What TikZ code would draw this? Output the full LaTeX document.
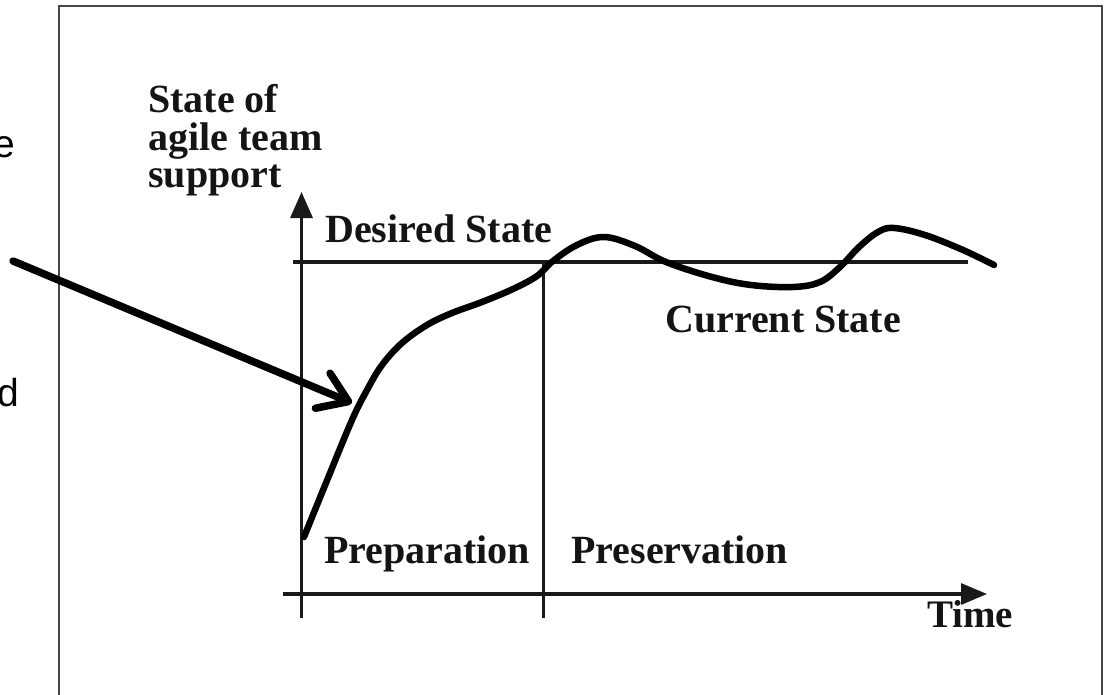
\documentclass[tikz,border=0pt]{standalone}
\usepackage{fontspec}
\setmainfont{Liberation Serif}
\newfontfamily\lsans{Liberation Sans}
\usetikzlibrary{arrows.meta}
\begin{document}
\begin{tikzpicture}[x=1pt,y=-1pt,
  lbl/.style={inner sep=0pt, anchor=base west, text=black!92},
  big/.style={font=\bfseries\fontsize{40}{40}\selectfont},
  mid/.style={font=\bfseries\fontsize{39}{39}\selectfont},
  frag/.style={inner sep=0pt, anchor=base east, font=\lsans\fontsize{39}{39}\selectfont},
  axis/.style={line width=3.2pt, draw=black!90},
  thin axis/.style={line width=2.8pt, draw=black!90},
  curvepath/.style={line width=6.5pt, line cap=round, line join=round},
  frame/.style={line width=1.8pt, draw=black!72},
  pointer/.style={line width=7.5pt, line cap=round, line join=round,
     -{Straight Barb[length=28pt,width=38pt,round]}}]
\useasboundingbox (0,0) rectangle (1105,695);
% outer frame
\draw[frame] (59,730) -- (59,6) -- (1102,6) -- (1102,730);
% cut-off fragments of text on the left
\node[frag] (fe) at (15,158) {e};
\node[frag] (fd) at (19,406) {d};
% axes
\coordinate (yb) at (301.5,618);
\coordinate (yt) at (301.5,192);
\coordinate (xl) at (283,594);
\coordinate (xr) at (987,594);
\draw[axis, -{Triangle[length=26pt,width=22pt]}] (yb) -- (yt);
\draw[axis, -{Triangle[length=26pt,width=21pt]}] (xl) -- (xr);
% desired state line
\coordinate (dl) at (293,262);
\coordinate (dr) at (968,262);
\draw[axis] (dl) -- (dr);
% phase divider
\coordinate (vt) at (543.5,263);
\coordinate (vb) at (543.5,618);
\draw[thin axis] (vt) -- (vb);
% current state curve
\draw[curvepath] plot[smooth, tension=0.6] coordinates {(304,537) (328,478) (352,420) (367,390) (382,365) (402,343) (427,325) (452,313) (482,302) (513,289) (537,276) (553,261) (577,245) (604,237) (635,246) (666,262) (712,277) (751,285) (793,287) (820,282) (840,267) (859,247) (878,232) (894,228) (925,235) (963,250) (994,265)};
% labels
\node[lbl, big] (t1) at (148,113) {State of};
\node[lbl, big] (t2) at (148,150.5) {agile team};
\node[lbl, big] (t3) at (148,188) {support};
\node[lbl, big] (des) at (325,242) {Desired State};
\node[lbl, big] (cur) at (665,332) {Current State};
\node[lbl, big] (prep) at (324,563) {Preparation};
\node[lbl, big] (pres) at (571,563) {Preservation};
\node[lbl, mid] (time) at (927,627) {Time};
% pointer arrow
\coordinate (ptail) at (13,261);
\coordinate (ptip) at (352,403);
\draw[pointer] (ptail) -- (ptip);
\end{tikzpicture}
\end{document}
